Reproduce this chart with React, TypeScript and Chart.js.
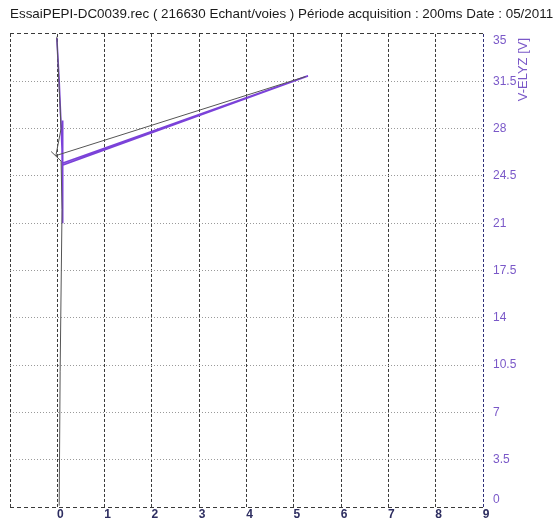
import React, { useEffect, useRef } from "react";
import { Chart, registerables } from "chart.js";

Chart.register(...registerables);

const TITLE =
  "EssaiPEPI-DC0039.rec ( 216630 Echant/voies ) Période acquisition : 200ms Date : 05/2011";
const Y_TITLE = "V-ELYZ [V]";

const X_MIN = -1;
const X_MAX = 9;
const X_STEP = 1;
const Y_MIN = 0;
const Y_MAX = 35;
const Y_STEP = 3.5;

// Purple trace (V-ELYZ)
const purpleX = [-0.01, 0.04, 0.08, 0.1, 0.11, 0.12, 0.11, 0.12, 0.11, 5.3, 0.12];
const purpleY = [34.7, 31.5, 28.2, 26.5, 25.5, 28.6, 25.4, 21.0, 25.3, 31.9, 25.45];

// Thin dark trace (null = gap in the trace)
const grayX = [-0.01, 0.08, -0.03, 5.25, 5.25, -0.13, 0.08, 0.1, 0.06, 0.04];
const grayY: (number | null)[] = [34.8, 28.0, 26.0, 31.85, null, 26.3, 25.6, 22.0, 10.0, 0.1];

const PURPLE = "#7b42d9";
const GRAY = "#555555";
const AXIS_PURPLE = "#7a58c8";
const X_LABEL = "#2d2d60";
const FONT = 'Arial, "Liberation Sans", sans-serif';

const toPoints = (xs: number[], ys: (number | null)[]) => xs.map((x, i) => ({ x, y: ys[i] }));

const yTitlePlugin = {
  id: "yTitleLeftReading",
  afterDraw(chart: any) {
    const ctx = chart.ctx;
    ctx.save();
    ctx.translate(523, chart.chartArea.top + 4);
    ctx.rotate(-Math.PI / 2);
    ctx.textAlign = "right";
    ctx.textBaseline = "middle";
    ctx.font = "13px " + FONT;
    ctx.fillStyle = AXIS_PURPLE;
    ctx.fillText(Y_TITLE, 0, 0);
    ctx.restore();
  },
};

export default function App() {
  const ref = useRef<HTMLCanvasElement | null>(null);

  useEffect(() => {
    if (!ref.current) return;
    Chart.defaults.font.family = FONT;
    const chart = new Chart(ref.current, {
      type: "scatter",
      data: {
        datasets: [
          {
            data: toPoints(grayX, grayY),
            showLine: true,
            spanGaps: false,
            borderColor: GRAY,
            borderWidth: 1,
            pointRadius: 0,
            tension: 0,
          },
          {
            data: toPoints(purpleX, purpleY),
            showLine: true,
            borderColor: PURPLE,
            borderWidth: 1.6,
            pointRadius: 0,
            tension: 0,
          },
        ],
      },
      options: {
        animation: false,
        responsive: false,
        events: [],
        layout: { padding: { left: 10, right: 0, top: 0, bottom: 0 } },
        plugins: {
          legend: { display: false },
          tooltip: { enabled: false },
          title: {
            display: true,
            text: TITLE,
            align: "start",
            color: "#1a1a1a",
            font: { size: 13.4, weight: "normal", family: FONT, lineHeight: 1.2 },
            padding: { top: 6, bottom: 11.9 },
          },
        },
        scales: {
          x: {
            type: "linear",
            position: "bottom",
            min: X_MIN,
            max: X_MAX,
            ticks: {
              stepSize: X_STEP,
              color: X_LABEL,
              font: { size: 12, weight: "bold", family: FONT },
              padding: 0,
              labelOffset: 3,
              maxRotation: 0,
              autoSkip: false,
              callback: (v: any) => (Number(v) === X_MIN ? "" : String(v)),
            },
            grid: {
              drawTicks: false,
              lineWidth: 1,
              color: (c: any) => (c.tick && c.tick.value === X_MAX ? "#2e2e78" : "#3a3a3a"),
            },
            border: { display: false, dash: [3, 2] },
            afterFit: (s: any) => {
              s.height = 13;
              s.paddingLeft = 0;
              s.paddingRight = 0;
            },
          },
          y: {
            type: "linear",
            position: "right",
            min: Y_MIN,
            max: Y_MAX,
            ticks: {
              stepSize: Y_STEP,
              color: AXIS_PURPLE,
              font: { size: 12, family: FONT },
              padding: 10,
              autoSkip: false,
              callback: (v: any) => {
                const n = Number(v);
                if (n === Y_MAX) return ["", String(n)];
                if (n === Y_MIN) return [String(n), ""];
                return String(n);
              },
            },
            grid: {
              drawTicks: false,
              lineWidth: 1,
              color: (c: any) =>
                c.tick && (c.tick.value === Y_MIN || c.tick.value === Y_MAX) ? "#3a3a3a" : "#9a9a9a",
            },
            border: {
              display: false,
              dash: (c: any) =>
                c.tick && (c.tick.value === Y_MIN || c.tick.value === Y_MAX) ? [4, 3] : [1, 2],
            },
            afterFit: (s: any) => {
              s.width = 71;
              s.paddingTop = 0;
              s.paddingBottom = 0;
            },
          },
        },
      },
      plugins: [yTitlePlugin],
    } as any);
    return () => chart.destroy();
  }, []);

  return (
    <div style={{ position: "absolute", left: 0, top: 0, width: 554, height: 520, background: "#fff" }}>
      <canvas ref={ref} width={554} height={520} />
    </div>
  );
}
